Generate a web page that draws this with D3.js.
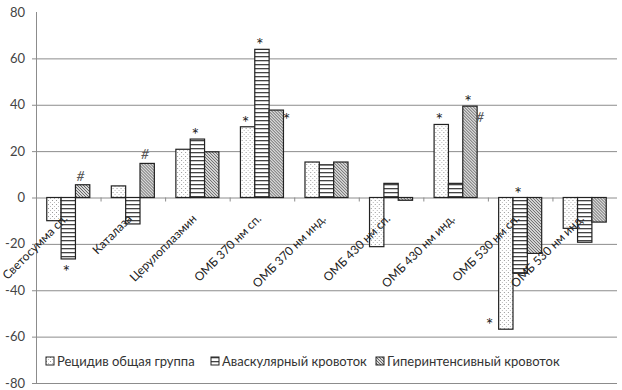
<!DOCTYPE html>
<html>
<head>
<meta charset="utf-8">
<script src="https://cdn.jsdelivr.net/npm/d3@7"></script>
<style>
  body { margin: 0; background: #fff; }
  svg text { font-family: Lato, "Open Sans", sans-serif; }
</style>
</head>
<body>
<svg id="chart" width="622" height="390"></svg>
<script>
// categories and series
const categories = [
  "Светосумма сп.", "Каталаза", "Церулоплазмин",
  "ОМБ 370 нм сп.", "ОМБ 370 нм инд.", "ОМБ 430 нм сп.",
  "ОМБ 430 нм инд.", "ОМБ 530 нм сп.", "ОМБ 530 нм инд."
];
const seriesNames = ["Рецидив общая группа", "Аваскулярный кровоток", "Гиперинтенсивный кровоток"];
const recurrence = [-10, 5, 20.8, 30.5, 15.3, -21.2, 31.5, -56.8, -13.3];
const avascular = [-26.5, -11.4, 25.2, 63.9, 14.1, 6.1, 6.1, -32.7, -19.3];
const hyperintense = [5.5, 14.7, 19.7, 37.7, 15.3, -1.2, 39.4, -24.1, -10.6];
const yTicks = [-80, -60, -40, -20, 0, 20, 40, 60, 80];
// significance marks: category index, series index, symbol, side
const marks = [
  [0, 1, "*", "bottom"], [0, 2, "#", "top"],
  [1, 2, "#", "top"],
  [2, 1, "*", "top"],
  [3, 0, "*", "top"], [3, 1, "*", "top"], [3, 2, "*", "right"],
  [6, 0, "*", "top"], [6, 2, "*", "top"], [6, 2, "#", "right"],
  [7, 1, "*", "top"], [7, 0, "*", "left"]
];

const svg = d3.select("#chart");
const margin = { left: 36, right: 5, top: 12, bottom: 7 };
const width = +svg.attr("width");
const height = +svg.attr("height");

const values = [recurrence, avascular, hyperintense];
const data = categories.map((c, i) => ({
  cat: c,
  vals: values.map((v, s) => ({ s: s, v: v[i] }))
}));

const x = d3.scaleBand().domain(categories).range([margin.left, width - margin.right]);
const xs = d3.scaleBand().domain([0, 1, 2]).range([0, x.bandwidth()]).paddingOuter(0.75);
const y = d3.scaleLinear().domain([-80, 80]).range([height - margin.bottom, margin.top]);

// fill patterns
const defs = svg.append("defs");
const p0 = defs.append("pattern").attr("id", "pat0").attr("width", 4).attr("height", 4)
  .attr("patternUnits", "userSpaceOnUse");
p0.append("rect").attr("width", 4).attr("height", 4).attr("fill", "#fff");
p0.append("rect").attr("x", 0).attr("y", 0).attr("width", 1).attr("height", 1).attr("fill", "#999");
p0.append("rect").attr("x", 2).attr("y", 2).attr("width", 1).attr("height", 1).attr("fill", "#bbb");

const p1 = defs.append("pattern").attr("id", "pat1").attr("width", 4).attr("height", 4)
  .attr("patternUnits", "userSpaceOnUse");
p1.append("rect").attr("width", 4).attr("height", 4).attr("fill", "#fff");
p1.append("rect").attr("y", 0).attr("width", 4).attr("height", 1.3).attr("fill", "#444");

const p2 = defs.append("pattern").attr("id", "pat2").attr("width", 3).attr("height", 3)
  .attr("patternUnits", "userSpaceOnUse");
p2.append("rect").attr("width", 3).attr("height", 3).attr("fill", "#d8d8d8");
p2.append("path").attr("d", "M-1,-1 L4,4 M-1,2 L1,4 M2,-1 L4,1").attr("stroke", "#666").attr("stroke-width", 1);

const fills = ["url(#pat0)", "url(#pat1)", "url(#pat2)"];

// gridlines
svg.append("g").selectAll("line")
  .data(yTicks.filter(t => t < 80))
  .join("line")
  .attr("x1", margin.left - 4).attr("x2", width - margin.right)
  .attr("y1", d => y(d) + 0.5).attr("y2", d => y(d) + 0.5)
  .attr("stroke", "#8c8c8c").attr("stroke-width", 1);

// y axis line
svg.append("line")
  .attr("x1", margin.left + 0.5).attr("x2", margin.left + 0.5)
  .attr("y1", y(80)).attr("y2", y(-80))
  .attr("stroke", "#8c8c8c");

svg.append("g").selectAll("text")
  .data(yTicks)
  .join("text")
  .attr("x", margin.left - 11)
  .attr("y", d => y(d))
  .attr("dy", "0.35em")
  .attr("text-anchor", "end")
  .attr("font-size", 13)
  .attr("fill", "#444")
  .text(d => d);

// category ticks on the zero line
svg.append("g").selectAll("line")
  .data(categories.slice(1))
  .join("line")
  .attr("x1", d => x(d) + 0.5).attr("x2", d => x(d) + 0.5)
  .attr("y1", y(0)).attr("y2", y(0) + 4)
  .attr("stroke", "#8c8c8c");

// bars
const groups = svg.append("g").selectAll("g")
  .data(data)
  .join("g")
  .attr("transform", d => `translate(${x(d.cat)},0)`);

groups.selectAll("rect")
  .data(d => d.vals)
  .join("rect")
  .attr("x", d => xs(d.s))
  .attr("width", xs.bandwidth())
  .attr("y", d => y(Math.max(d.v, 0)))
  .attr("height", d => Math.abs(y(d.v) - y(0)))
  .attr("fill", d => fills[d.s])
  .attr("stroke", "#222")
  .attr("stroke-width", 1.2);

// category labels
svg.append("g").selectAll("text")
  .data(categories)
  .join("text")
  .attr("transform", d => `translate(${x(d) + x.bandwidth() / 2},${y(0) + 22}) rotate(-45)`)
  .attr("text-anchor", "end")
  .attr("font-size", 12)
  .attr("fill", "#222")
  .text(d => d);

// significance marks
svg.append("g").selectAll("text")
  .data(marks)
  .join("text")
  .attr("x", d => {
    const bx = x(categories[d[0]]) + xs(d[1]);
    if (d[3] === "right") return bx + xs.bandwidth() + 3;
    if (d[3] === "left") return bx - 9;
    return bx + xs.bandwidth() / 2 - 2;
  })
  .attr("y", d => {
    const v = values[d[1]][d[0]];
    if (d[3] === "top") return y(Math.max(v, 0)) + (d[2] === "*" ? 2 : -4);
    if (d[3] === "bottom") return y(Math.min(v, 0)) + 19;
    if (d[3] === "right") return y(v) + 16;
    return y(v) + 2;
  })
  .attr("text-anchor", "middle")
  .attr("font-family", d => d[2] === "*" ? "Liberation Sans, sans-serif" : "Liberation Serif, serif")
  .attr("font-style", d => d[2] === "#" ? "italic" : null)
  .attr("font-size", d => d[2] === "*" ? 18 : 14)
  .attr("fill", d => d[2] === "*" ? "#222" : "#555")
  .text(d => d[2]);

// legend
const legendX = [46, 211, 376];
const legend = svg.append("g").selectAll("g")
  .data(seriesNames)
  .join("g")
  .attr("transform", (d, i) => `translate(${legendX[i]},357)`);
legend.append("rect")
  .attr("width", 8).attr("height", 8)
  .attr("fill", (d, i) => fills[i])
  .attr("stroke", "#222");
legend.append("text")
  .attr("x", 11).attr("y", 4)
  .attr("dy", "0.35em")
  .attr("font-size", 13)
  .attr("fill", "#333")
  .text(d => d);
</script>
</body>
</html>
